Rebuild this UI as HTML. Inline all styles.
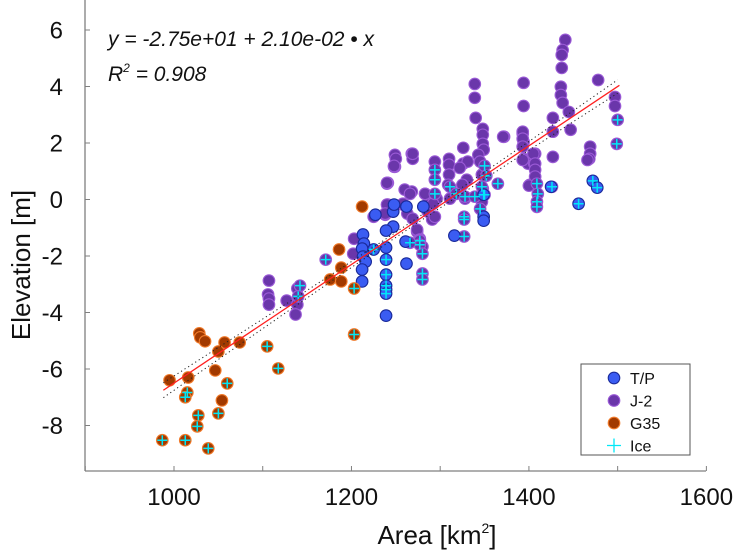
<!DOCTYPE html>
<html><head><meta charset="utf-8"><style>
html,body{margin:0;padding:0;background:#fff}
svg{display:block;font-family:"Liberation Sans",Arial,sans-serif}
</style></head><body>
<svg id="chart" width="744" height="555" viewBox="0 0 744 555" xmlns="http://www.w3.org/2000/svg">
<g id="axes"></g>
<g id="marks"></g>
<text x="108" y="46" font-size="21" font-style="italic" fill="#111">y = -2.75e+01 + 2.10e-02 • x</text>
<text x="108" y="81" font-size="21" font-style="italic" fill="#111">R<tspan font-size="12" dy="-9">2</tspan><tspan dy="9"> = 0.908</tspan></text>
<text transform="translate(30,265) rotate(-90)" text-anchor="middle" font-size="26" fill="#111">Elevation [m]</text>
<text x="437" y="544" text-anchor="middle" font-size="26" fill="#111">Area [km<tspan font-size="14" dy="-11">2</tspan><tspan dy="11">]</tspan></text>
<g id="legend"></g>
</svg>
<script>
const xTicks=[900,1000,1100,1200,1300,1400,1500,1600];
const xTickLabels=["","1000","","1200","","1400","","1600"];
const yTicks=[-8,-6,-4,-2,0,2,4,6];
const yTickLabels=["-8","-6","-4","-2","0","2","4","6"];
const fitIntercept=-27.5, fitSlope=0.021;
const fitRange=[988,1502];
const g35X=[1028.5,1029.6,1035,1057,1074,1050,1016,995,1046.5,1054,1176,1188.5,1188.5,1186,1212];
const g35Y=[-4.74,-4.88,-5.02,-5.06,-5.06,-5.38,-6.30,-6.40,-6.05,-7.11,-2.83,-2.41,-2.90,-1.77,-0.25];
const g35IceX=[1015,1012.7,1060,1027.4,1026.2,1050,986.8,1012.7,1038.6,1105,1117.5,1203,1203];
const g35IceY=[-6.83,-7.00,-6.51,-7.64,-8.03,-7.57,-8.52,-8.52,-8.81,-5.20,-5.98,-3.15,-4.78];
const j2X=[1107,1106,1107,1107,1127,1139,1139,1137,1203,1202,1225,1238,1241,1249,1241,1339,1339,1340,1348,1348,1348,1349,1343,1326,1372,1394,1394,1393,1394,1394,1399,1406,1407,1401,1427,1427,1427,1441,1438,1437,1437,1436,1436,1438,1445,1447,1478,1497,1497,1469,1469,1468,1249,1250,1248,1268,1269,1294,1310,1310,1310,1309,1296,1283,1268,1260,1240,1240,1238,1258,1263,1274,1277,1280,1326,1331,1322,1330,1325,1311,1328,1347,1348,1345,1347,1286,1287,1248,1269,1240,1258,1266,1283,1269,1274,1291,1292,1294,1277,1371,1393,1393,1393,1393,1405,1407,1407,1407,1400,1466];
const j2Y=[-2.87,-3.36,-3.51,-3.72,-3.58,-3.15,-3.72,-4.07,-1.39,-1.92,-0.61,-0.54,-0.18,1.16,0.59,4.09,3.60,2.89,2.50,2.29,1.97,1.76,1.58,1.83,2.22,4.13,3.31,2.33,2.04,1.44,1.27,1.27,1.62,0.52,2.89,2.40,1.51,5.65,5.29,5.12,4.66,3.99,3.70,3.42,3.10,2.47,4.23,3.63,3.31,1.87,1.62,1.44,1.58,1.44,1.16,1.62,1.44,1.34,1.44,1.23,0.88,0.52,0.03,0.20,0.28,0.35,0.56,-0.18,-0.50,-0.18,-0.50,-1.14,-1.39,-1.67,1.27,1.34,1.12,0.70,0.52,0.03,0.03,-0.08,0.38,1.34,0.88,-0.43,-0.08,1.19,1.62,0.59,-0.15,0.20,0.20,-0.68,-1.07,-0.71,-0.15,-0.61,-1.42,2.22,2.40,2.15,1.87,1.40,1.62,1.27,1.05,0.81,0.49,1.40];
const j2IceX=[1171,1142,1140,1294,1294,1294,1311,1318,1328,1339,1347,1350,1352,1350,1345,1327,1327,1327,1365,1409,1410,1409,1409,1426,1500,1499,1277,1277,1266,1280,1280,1280];
const j2IceY=[-2.13,-3.05,-3.43,1.05,0.70,0.20,0.45,0.20,0.10,0.10,0.45,1.19,0.84,0.17,-0.33,-0.61,-0.71,-1.31,0.56,0.56,0.20,-0.08,-0.26,0.45,2.82,1.97,-1.46,-1.60,-1.53,-1.92,-2.62,-2.83];
const tpX=[1213,1214,1212,1213,1216,1212,1212,1227,1247,1248,1247,1239,1239,1261,1262,1281,1262,1316,1349,1349,1239,1425];
const tpY=[-1.24,-1.56,-1.74,-2.02,-2.20,-2.48,-2.90,-0.54,-0.43,-0.18,-0.96,-1.10,-1.70,-1.49,-2.27,-0.25,-0.25,-1.28,-0.61,-0.75,-4.11,0.45];
const tpIceX=[1225,1239,1239,1239,1239,1239,1349,1472,1477,1456];
const tpIceY=[-1.77,-2.13,-2.66,-3.05,-3.19,-3.33,0.17,0.66,0.42,-0.15];
const legendLabels=["T/P","J-2","G35","Ice"];

const NS="http://www.w3.org/2000/svg";
const X0=85,X1=706,Y0=471;
function sx(v){return 174+(v-1000)*0.8873;}
function sy(v){return 30+(6-v)*28.25;}
function mk(tag,attrs,parent){const e=document.createElementNS(NS,tag);for(const k in attrs)e.setAttribute(k,attrs[k]);parent.appendChild(e);return e;}
const axes=document.getElementById('axes'),marks=document.getElementById('marks'),leg=document.getElementById('legend');
const ac="#7f7f7f";
let l=mk('line',{x1:X0,y1:0,x2:X0,y2:Y0,stroke:ac,'stroke-width':1.3},axes);


l=mk('line',{x1:X0,y1:Y0,x2:X1,y2:Y0,stroke:ac,'stroke-width':1.3},axes);


xTicks.forEach((v,i)=>{const x=sx(v);
 const t=mk('line',{x1:x,y1:Y0,x2:x,y2:Y0-5,stroke:ac,'stroke-width':1},axes);
 
 
 if(xTickLabels[i]){const tx=mk('text',{x:x,y:505,'text-anchor':'middle','font-size':24,fill:'#111'},axes);tx.textContent=xTickLabels[i];
 
 }
});
yTicks.forEach((v,i)=>{const y=sy(v);
 const t=mk('line',{x1:X0,y1:y,x2:X0+5,y2:y,stroke:ac,'stroke-width':1},axes);
 
 
 const tx=mk('text',{x:63,y:y+8.5,'text-anchor':'end','font-size':24,fill:'#111'},axes);tx.textContent=yTickLabels[i];
 
 
});
const styles={tp:{fill:'#3a5cf2',stroke:'#1a2a9a'},j2:{fill:'#6a36aa',stroke:'#9a5ad6'},g35:{fill:'#a23a00',stroke:'#f07a2a'}};
function dot(x,y,s,name,parent,r){const c=mk('circle',{cx:sx(x),cy:sy(y),r:r||5.8,fill:s.fill,stroke:s.stroke,'stroke-width':1.1},parent);
 
 }
function cross(x,y,name,parent){const cx=sx(x),cy=sy(y);const p=mk('path',{d:`M${cx-5},${cy}H${cx+5}M${cx},${cy-5}V${cy+5}`,stroke:'#00e8f8','stroke-width':1.5,fill:'none'},parent);
 
 }
j2X.forEach((x,i)=>dot(x,j2Y[i],styles.j2,'j2-point',marks));
j2IceX.forEach((x,i)=>dot(x,j2IceY[i],styles.j2,'j2-ice-point',marks));
tpX.forEach((x,i)=>dot(x,tpY[i],styles.tp,'tp-point',marks));
tpIceX.forEach((x,i)=>dot(x,tpIceY[i],styles.tp,'tp-ice-point',marks));
g35X.forEach((x,i)=>dot(x,g35Y[i],styles.g35,'g35-point',marks));
g35IceX.forEach((x,i)=>dot(x,g35IceY[i],styles.g35,'g35-ice-point',marks));
j2IceX.forEach((x,i)=>cross(x,j2IceY[i],'ice-marker',marks));
tpIceX.forEach((x,i)=>cross(x,tpIceY[i],'ice-marker',marks));
g35IceX.forEach((x,i)=>cross(x,g35IceY[i],'ice-marker',marks));
const f=v=>fitIntercept+fitSlope*v;
const fl=mk('line',{x1:sx(fitRange[0]),y1:sy(f(fitRange[0])),x2:sx(fitRange[1]),y2:sy(f(fitRange[1])),stroke:'#ff2020','stroke-width':1.3},marks);


const hw=v=>Math.sqrt(0.008+8.3e-7*(v-1260)*(v-1260));
[1,-1].forEach(sg=>{let d='';for(let v=fitRange[0];v<=fitRange[1];v+=4){d+=(d?'L':'M')+sx(v).toFixed(1)+','+sy(f(v)+sg*hw(v)).toFixed(1);}
 const p=mk('path',{d:d,stroke:'#222',fill:'none','stroke-width':1,'stroke-dasharray':'1.2,3'},marks);
 
 });
const box=mk('rect',{x:581,y:364,width:109,height:91,fill:'#fff',stroke:'#555','stroke-width':1},leg);


const ly=[378,400.5,423,445.5];
const lst=[styles.tp,styles.j2,styles.g35,null];
legendLabels.forEach((lab,i)=>{
 if(lst[i]){const c=mk('circle',{cx:614,cy:ly[i],r:5.8,fill:lst[i].fill,stroke:lst[i].stroke,'stroke-width':1.1},leg);
  
  }
 else{const p=mk('path',{d:`M607,${ly[i]}H621M614,${ly[i]-7}V${ly[i]+7}`,stroke:'#00e8f8','stroke-width':1.3},leg);
  
  }
 const t=mk('text',{x:630,y:ly[i]+6,'font-size':16,fill:'#111'},leg);t.textContent=lab;
 
 
});
</script>
</body></html>
